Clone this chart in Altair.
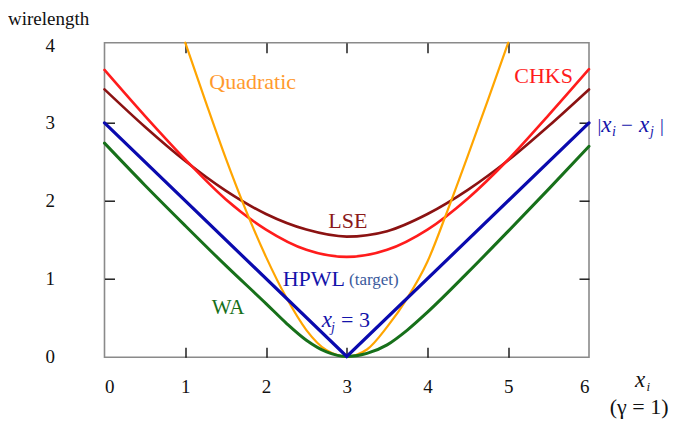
import altair as alt
import pandas as pd

# ---------------- data ----------------
grid_x = [0, 0.5, 1, 1.5, 2, 2.5, 3, 3.5, 4, 4.5, 5, 5.5, 6]
chks_y = [3.68, 3.09, 2.53, 2.02, 1.63, 1.37, 1.28, 1.37, 1.63, 2.03, 2.53, 3.10, 3.69]
lse_y = [3.43, 2.95, 2.51, 2.13, 1.83, 1.63, 1.54, 1.61, 1.83, 2.14, 2.52, 2.96, 3.43]

hpwl_x = [0, 3, 6]
hpwl_y = [3, 0, 3]

quad_x = [1.0, 1.25, 1.5, 1.75, 2.0, 2.25, 2.5, 2.75, 3.0, 3.25, 3.5, 3.75, 4.0, 4.25, 4.5, 4.75, 5.0]
quad_y = [4.03, 3.28, 2.55, 1.88, 1.28, 0.76, 0.34, 0.08, 0.0, 0.09, 0.38, 0.75, 1.22, 1.88, 2.58, 3.30, 4.03]

wa_x = [0, 0.5, 1, 1.5, 2, 2.25, 2.5, 2.75, 3, 3.25, 3.5, 3.75, 4, 4.5, 5, 5.5, 6]
wa_y = [2.74, 2.20, 1.68, 1.17, 0.68, 0.43, 0.21, 0.06, 0.0, 0.04, 0.15, 0.34, 0.57, 1.08, 1.61, 2.15, 2.70]

x_ticks = [0, 1, 2, 3, 4, 5, 6]
y_ticks = [0, 1, 2, 3, 4]
inner_x_ticks = [1, 2, 3, 4, 5]
inner_y_ticks = [1, 2, 3]

series = [
    ("LSE", grid_x, lse_y),
    ("CHKS", grid_x, chks_y),
    ("Quadratic", quad_x, quad_y),
    ("WA", wa_x, wa_y),
    ("HPWL", hpwl_x, hpwl_y),
]

# ---------------- styles ----------------
styles = {
    "LSE": ("#8b1212", 2.6, "monotone"),
    "CHKS": ("#ff1c1c", 2.6, "monotone"),
    "Quadratic": ("#ffa500", 2.2, "monotone"),
    "WA": ("#17701a", 3.0, "monotone"),
    "HPWL": ("#0a0aae", 3.2, "linear"),
}

W, H = 484.5, 314.6
SERIF = "Liberation Serif, Times New Roman, serif"

xscale = alt.Scale(domain=[0, 6], nice=False, zero=False)
yscale = alt.Scale(domain=[-0.01, 4.03], nice=False, zero=False)


def frame(xs, ys, name):
    return pd.DataFrame({"x": xs, "y": ys, "series": name})


all_df = pd.concat([frame(xs, ys, n) for n, xs, ys in series], ignore_index=True)

line_layers = []
for name, xs, ys in series:
    color, sw, interp = styles[name]
    line_layers.append(
        alt.Chart(frame(xs, ys, name))
        .mark_line(color=color, strokeWidth=sw, interpolate=interp, strokeCap="round")
        .encode(
            x=alt.X("x:Q", scale=xscale, axis=None),
            y=alt.Y("y:Q", scale=yscale, axis=None),
        )
    )

tick_style = dict(tickColor="#111111", tickWidth=1.4, tickSize=10, offset=-10,
                  domain=False, grid=False, title=None)

axis_main = alt.Chart(all_df).mark_point(opacity=0).encode(
    x=alt.X("x:Q", scale=xscale, axis=alt.Axis(
        orient="bottom", values=x_ticks, labelPadding=20,
        tickOpacity={"condition": {"test": "datum.value == 0 || datum.value == 6", "value": 0}, "value": 1},
        **tick_style)),
    y=alt.Y("y:Q", scale=yscale, axis=alt.Axis(
        orient="left", values=y_ticks, labelPadding=50,
        tickOpacity={"condition": {"test": "datum.value == 0 || datum.value == 4", "value": 0}, "value": 1},
        **tick_style)),
)

axis_inner = alt.Chart(all_df).mark_point(opacity=0).encode(
    x=alt.X("x:Q", scale=xscale, axis=alt.Axis(orient="top", values=inner_x_ticks, labels=False, **tick_style)),
    y=alt.Y("y:Q", scale=yscale, axis=alt.Axis(orient="right", values=inner_y_ticks, labels=False, **tick_style)),
)


def label(text, x, y, size, color, italic=False, font=SERIF, align="left"):
    return alt.Chart(alt.Data(values=[{}])).mark_text(
        text=text, font=font, fontSize=size, color=color,
        fontStyle="italic" if italic else "normal",
        align=align, baseline="alphabetic",
    ).encode(x=alt.value(x), y=alt.value(y))


BLUE = "#1414aa"
labels = [
    label("wirelength", -96.5, -17.5, 19, "#111111"),
    label("Quadratic", 104.8, 46.6, 22, "#ff9a2e"),
    label("CHKS", 409.8, 40, 22, "#ff1c1c"),
    label("LSE", 223.8, 185.6, 22, "#8b1a1a"),
    label("HPWL", 178.2, 243.3, 22, BLUE),
    label("(target)", 244.5, 242.3, 17, "#3a5a9c"),
    label("WA", 107.2, 271.6, 21, "#17701a"),
    label("x", 217.2, 284, 23, BLUE, italic=True),
    label("j", 226.5, 288.8, 14, BLUE, italic=True),
    label("= 3", 236.5, 283.8, 22, BLUE),
    label("|", 493, 89, 19, BLUE),
    label("x", 496.8, 89, 23, BLUE, italic=True),
    label("i", 507.6, 93.5, 14, BLUE, italic=True),
    label("\u2212", 516.5, 89, 21, BLUE),
    label("x", 534.5, 89, 23, BLUE, italic=True),
    label("j", 545.5, 93.5, 14, BLUE, italic=True),
    label("|", 555.5, 89, 19, BLUE),
    label("x", 530.5, 344, 23, "#111111", italic=True),
    label("i", 542, 348.5, 13, "#111111", italic=True),
    label("(\u03b3 = 1)", 564, 371, 22, "#111111", align="right"),
]

chart = (
    alt.layer(axis_main, axis_inner, *line_layers, *labels)
    .resolve_scale(x="shared", y="shared")
    .resolve_axis(x="independent", y="independent")
    .properties(
        width=W, height=H,
        autosize=alt.AutoSizeParams(type="none"),
        padding={"left": 96.5, "top": 34.7, "right": 80, "bottom": 62.7},
    )
    .configure_view(stroke="#8a8a8a", strokeWidth=1.6)
    .configure_axis(labelFont=SERIF, labelFontSize=19, labelColor="#111111")
)

chart.save("out.html", embed_options={"renderer": "svg", "actions": False})
